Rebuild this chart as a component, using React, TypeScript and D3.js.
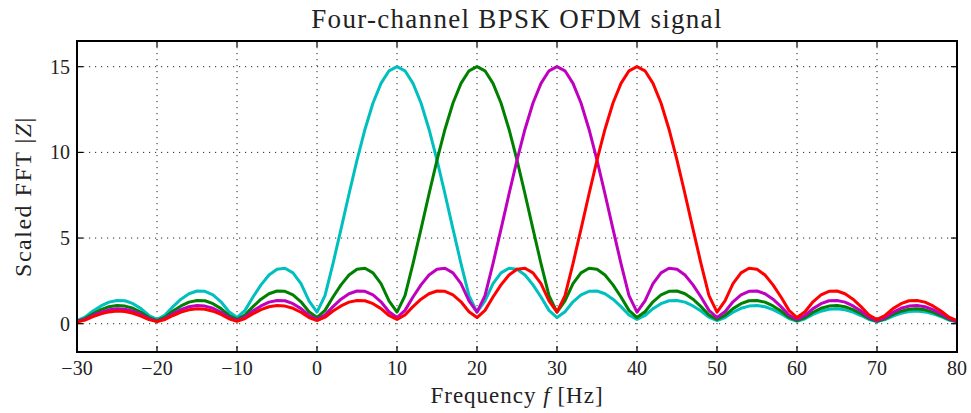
import React from "react";
import * as d3 from "d3";

const freqs: number[] = d3.range(-30, 81, 1);

const cyanValues: number[] = [
  0.18, 0.38, 0.74, 1.04, 1.26, 1.36, 1.34, 1.17, 0.88, 0.48,
  0.25, 0.51, 1.00, 1.43, 1.75, 1.91, 1.89, 1.68, 1.28, 0.70,
  0.36, 0.78, 1.56, 2.27, 2.84, 3.18, 3.24, 2.97, 2.34, 1.34,
  0.68, 1.64, 3.51, 5.52, 7.57, 9.55, 11.35, 12.88, 14.03, 14.76,
  15.00,
  14.76, 14.03, 12.88, 11.35, 9.55, 7.57, 5.52, 3.51, 1.64, 0.68,
  1.34, 2.34, 2.97, 3.24, 3.18, 2.84, 2.27, 1.56, 0.78, 0.36,
  0.70, 1.28, 1.68, 1.89, 1.91, 1.75, 1.43, 1.00, 0.51, 0.25,
  0.48, 0.88, 1.17, 1.34, 1.36, 1.26, 1.04, 0.74, 0.38, 0.18,
  0.36, 0.67, 0.90, 1.03, 1.06, 0.99, 0.82, 0.58, 0.30, 0.14,
  0.29, 0.54, 0.73, 0.84, 0.87, 0.81, 0.68, 0.48, 0.25, 0.12,
  0.24, 0.45, 0.61, 0.71, 0.74, 0.69, 0.58, 0.41, 0.21, 0.10,
];

const greenValues: number[] = [
  0.14, 0.30, 0.58, 0.82, 0.99, 1.06, 1.03, 0.90, 0.67, 0.36,
  0.18, 0.38, 0.74, 1.04, 1.26, 1.36, 1.34, 1.17, 0.88, 0.48,
  0.25, 0.51, 1.00, 1.43, 1.75, 1.91, 1.89, 1.68, 1.28, 0.70,
  0.36, 0.78, 1.56, 2.27, 2.84, 3.18, 3.24, 2.97, 2.34, 1.34,
  0.68, 1.64, 3.51, 5.52, 7.57, 9.55, 11.35, 12.88, 14.03, 14.76,
  15.00,
  14.76, 14.03, 12.88, 11.35, 9.55, 7.57, 5.52, 3.51, 1.64, 0.68,
  1.34, 2.34, 2.97, 3.24, 3.18, 2.84, 2.27, 1.56, 0.78, 0.36,
  0.70, 1.28, 1.68, 1.89, 1.91, 1.75, 1.43, 1.00, 0.51, 0.25,
  0.48, 0.88, 1.17, 1.34, 1.36, 1.26, 1.04, 0.74, 0.38, 0.18,
  0.36, 0.67, 0.90, 1.03, 1.06, 0.99, 0.82, 0.58, 0.30, 0.14,
  0.29, 0.54, 0.73, 0.84, 0.87, 0.81, 0.68, 0.48, 0.25, 0.12,
];

const magentaValues: number[] = [
  0.12, 0.25, 0.48, 0.68, 0.81, 0.87, 0.84, 0.73, 0.54, 0.29,
  0.14, 0.30, 0.58, 0.82, 0.99, 1.06, 1.03, 0.90, 0.67, 0.36,
  0.18, 0.38, 0.74, 1.04, 1.26, 1.36, 1.34, 1.17, 0.88, 0.48,
  0.25, 0.51, 1.00, 1.43, 1.75, 1.91, 1.89, 1.68, 1.28, 0.70,
  0.36, 0.78, 1.56, 2.27, 2.84, 3.18, 3.24, 2.97, 2.34, 1.34,
  0.68, 1.64, 3.51, 5.52, 7.57, 9.55, 11.35, 12.88, 14.03, 14.76,
  15.00,
  14.76, 14.03, 12.88, 11.35, 9.55, 7.57, 5.52, 3.51, 1.64, 0.68,
  1.34, 2.34, 2.97, 3.24, 3.18, 2.84, 2.27, 1.56, 0.78, 0.36,
  0.70, 1.28, 1.68, 1.89, 1.91, 1.75, 1.43, 1.00, 0.51, 0.25,
  0.48, 0.88, 1.17, 1.34, 1.36, 1.26, 1.04, 0.74, 0.38, 0.18,
  0.36, 0.67, 0.90, 1.03, 1.06, 0.99, 0.82, 0.58, 0.30, 0.14,
];

const redValues: number[] = [
  0.10, 0.21, 0.41, 0.58, 0.69, 0.74, 0.71, 0.61, 0.45, 0.24,
  0.12, 0.25, 0.48, 0.68, 0.81, 0.87, 0.84, 0.73, 0.54, 0.29,
  0.14, 0.30, 0.58, 0.82, 0.99, 1.06, 1.03, 0.90, 0.67, 0.36,
  0.18, 0.38, 0.74, 1.04, 1.26, 1.36, 1.34, 1.17, 0.88, 0.48,
  0.25, 0.51, 1.00, 1.43, 1.75, 1.91, 1.89, 1.68, 1.28, 0.70,
  0.36, 0.78, 1.56, 2.27, 2.84, 3.18, 3.24, 2.97, 2.34, 1.34,
  0.68, 1.64, 3.51, 5.52, 7.57, 9.55, 11.35, 12.88, 14.03, 14.76,
  15.00,
  14.76, 14.03, 12.88, 11.35, 9.55, 7.57, 5.52, 3.51, 1.64, 0.68,
  1.34, 2.34, 2.97, 3.24, 3.18, 2.84, 2.27, 1.56, 0.78, 0.36,
  0.70, 1.28, 1.68, 1.89, 1.91, 1.75, 1.43, 1.00, 0.51, 0.25,
  0.48, 0.88, 1.17, 1.34, 1.36, 1.26, 1.04, 0.74, 0.38, 0.18,
];

const seriesNames = ["10 Hz", "20 Hz", "30 Hz", "40 Hz"];
const seriesColors = ["#00bfbf", "#008000", "#bf00bf", "#ff0000"];
const seriesValues = [cyanValues, greenValues, magentaValues, redValues];

const xTicks: number[] = [-30, -20, -10, 0, 10, 20, 30, 40, 50, 60, 70, 80];
const yTicks: number[] = [0, 5, 10, 15];

const titleText = "Four-channel BPSK OFDM signal";

const W = 971;
const H = 413;
const M = { left: 77, right: 957, top: 41, bottom: 352 };
const FONT = "'Liberation Serif', 'Times New Roman', serif";

function fmt(v: number): string {
  return v < 0 ? "\u2212" + Math.abs(v) : String(v);
}

export default function App() {
  const x = d3.scaleLinear().domain([-30, 80]).range([M.left, M.right]);
  const y = d3.scaleLinear().domain([-1.65, 16.5]).range([M.bottom, M.top]);
  const line = d3
    .line<number>()
    .x((_, i) => x(freqs[i]))
    .y((d) => y(d))
    .curve(d3.curveLinear);

  const tickLen = 6;

  return (
    <svg width={W} height={H} style={{ position: "absolute", left: 0, top: 0, background: "#fff" }}>
      <defs>
        <clipPath id="plotclip">
          <rect x={M.left} y={M.top} width={M.right - M.left} height={M.bottom - M.top} />
        </clipPath>
      </defs>
      <rect x={0} y={0} width={W} height={H} fill="#fff" />
      {/* grid */}
      <g stroke="#000" strokeWidth={1} strokeDasharray="1.2,4.8" opacity={0.85}>
        {xTicks.slice(1, -1).map((t) => (
          <line key={"gx" + t} x1={x(t)} x2={x(t)} y1={M.top} y2={M.bottom} />
        ))}
        {yTicks.map((t) => (
          <line key={"gy" + t} x1={M.left} x2={M.right} y1={y(t)} y2={y(t)} />
        ))}
      </g>
      {/* lines */}
      <g clipPath="url(#plotclip)" fill="none" strokeWidth={3} strokeLinejoin="round" strokeLinecap="round">
        {seriesValues.map((vals, i) => (
          <path key={seriesNames[i]} d={line(vals) || ""} stroke={seriesColors[i]} />
        ))}
      </g>
      {/* ticks */}
      <g stroke="#000" strokeWidth={1.2}>
        {xTicks.map((t) => (
          <g key={"tx" + t}>
            <line x1={x(t)} x2={x(t)} y1={M.bottom} y2={M.bottom - tickLen} />
            <line x1={x(t)} x2={x(t)} y1={M.top} y2={M.top + tickLen} />
          </g>
        ))}
        {yTicks.map((t) => (
          <g key={"ty" + t}>
            <line x1={M.left} x2={M.left + tickLen} y1={y(t)} y2={y(t)} />
            <line x1={M.right} x2={M.right - tickLen} y1={y(t)} y2={y(t)} />
          </g>
        ))}
      </g>
      {/* frame */}
      <rect x={M.left} y={M.top} width={M.right - M.left} height={M.bottom - M.top} fill="none" stroke="#000" strokeWidth={2} />
      {/* tick labels */}
      <g fontFamily={FONT} fontSize={20} fill="#222">
        {xTicks.map((t) => (
          <text key={"lx" + t} x={x(t)} y={375} textAnchor="middle">
            {fmt(t)}
          </text>
        ))}
        {yTicks.map((t) => (
          <text key={"ly" + t} x={70} y={y(t) + 7} textAnchor="end">
            {fmt(t)}
          </text>
        ))}
      </g>
      {/* title */}
      <text x={(M.left + M.right) / 2} y={28} textAnchor="middle" fontFamily={FONT} fontSize={27} letterSpacing={1.3} fill="#222">
        {titleText}
      </text>
      {/* x label */}
      <text x={(M.left + M.right) / 2} y={403} textAnchor="middle" fontFamily={FONT} fontSize={23} letterSpacing={1} fill="#222">
        Frequency <tspan fontStyle="italic">f</tspan> [Hz]
      </text>
      {/* y label */}
      <text
        transform={`translate(31, ${(M.top + M.bottom) / 2}) rotate(-90)`}
        textAnchor="middle"
        fontFamily={FONT}
        fontSize={24}
        letterSpacing={1.5}
        fill="#222"
      >
        Scaled FFT |<tspan fontStyle="italic">Z</tspan>|
      </text>
    </svg>
  );
}
